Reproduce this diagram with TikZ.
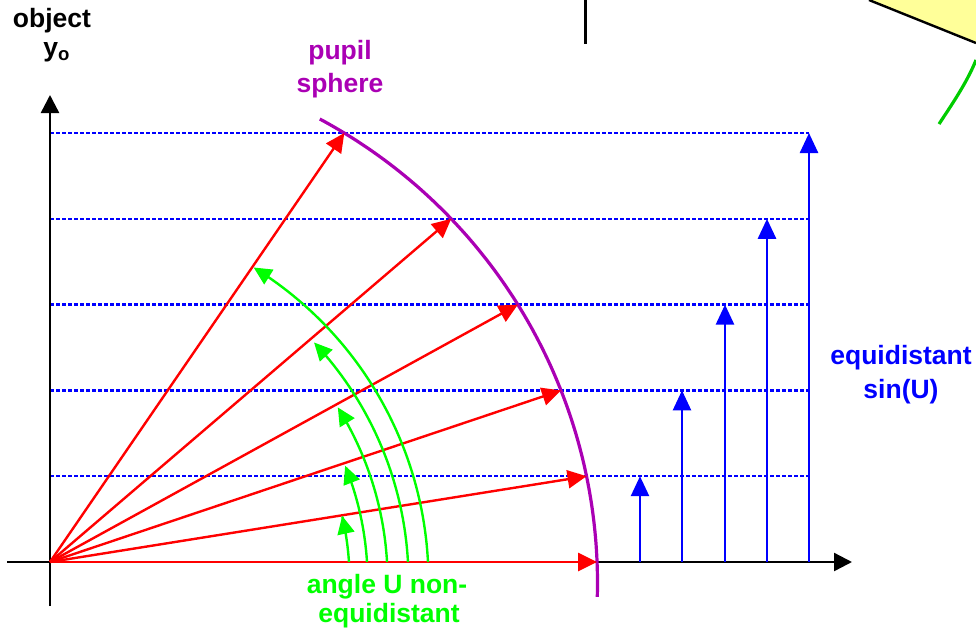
\documentclass[tikz,border=0pt]{standalone}
\usepackage{fontspec}
\setmainfont{Liberation Sans}
\usetikzlibrary{arrows.meta}
\definecolor{ppurple}{RGB}{170,0,180}
\definecolor{pgreen}{RGB}{0,255,0}
\definecolor{dgreen}{RGB}{0,204,0}
\definecolor{pblue}{RGB}{0,0,255}
\definecolor{pred}{RGB}{255,0,0}
\definecolor{pyellow}{RGB}{255,255,153}
\begin{document}
\begin{tikzpicture}[x=0.5pt,y=-0.5pt,
  lbl/.style={font=\fontsize{13.25}{16}\selectfont\bfseries, anchor=base, inner sep=0pt},
  axisline/.style={black, line width=1.2pt, -{Triangle[length=9pt,width=9pt]}},
  ray/.style={pred, line width=1.2pt, -{Triangle[length=9.5pt,width=9pt]}},
  uarc/.style={pgreen, line width=1.2pt, -{Triangle[length=9pt,width=8.5pt]}},
  sinarrow/.style={pblue, line width=1.3pt, -{Triangle[length=10pt,width=9pt]}},
  level/.style={pblue, line width=1.2pt, dash pattern=on 2pt off 1pt},
  sphere/.style={ppurple, line width=1.6pt},
]
\useasboundingbox (0,0) rectangle (976,633);

% top-right fragment
\fill[pyellow] (869,0) -- (976,43) -- (976,0) -- cycle;
\draw[black, line width=1.2pt] (869,0) -- (976,43);
\draw[dgreen, line width=1.6pt] (939,124) .. controls (955,100) and (968,80) .. (976,60);
% top vertical line
\draw[black, line width=1.5pt] (585,0) -- (585,44);

% origin and axes
\coordinate (O) at (50,562);
\coordinate (xa0) at (7,562);
\coordinate (xa1) at (852,562);
\coordinate (ya0) at (50,606);
\coordinate (ya1) at (50,95);

% levels
\foreach \k/\xb in {1/640,2/682,3/725,4/767,5/809}{
  \coordinate (L\k) at (50,{562-85.8*\k});
  \coordinate (E\k) at (809,{562-85.8*\k});
  \coordinate (B\k) at (\xb,562);
  \coordinate (T\k) at (\xb,{562-85.8*\k});
}
\foreach \k in {1,...,5}{
  \draw[level] (L\k) -- (E\k);
}

\draw[axisline] (xa0) -- (xa1);
\draw[axisline] (ya0) -- (ya1);

% blue sin arrows
\foreach \k in {1,...,5}{
  \draw[sinarrow] (B\k) -- (T\k);
}

% pupil sphere
\draw[sphere] plot[domain=-1.5:61.8, samples=80, smooth] ({71+526.5*cos(\x)},{583-526.5*sin(\x)});

% red rays
\coordinate (R0) at (597.1,562);
\coordinate (R1) at (586.6,{562-85.8});
\coordinate (R2) at (561.0,{562-171.6});
\coordinate (R3) at (517.9,{562-257.4});
\coordinate (R4) at (451.2,{562-343.2});
\coordinate (R5) at (344.3,{562-429});
\foreach \k in {0,...,5}{
  \draw[ray] (O) -- (R\k);
}

% green angle arcs (centre 60,581)
\foreach \r/\a/\b in {289.6/3.76/13, 307.6/3.54/22, 327.6/3.32/32, 348.5/3.13/43.2, 368.5/2.96/58.3}{
  \draw[uarc] plot[domain=\a:\b, samples=40, smooth] ({60+\r*cos(\x)},{581-\r*sin(\x)});
}

% labels
\node[lbl] (obj) at (52,27) {object};
\node[lbl] (yo) at (57,56) {y\textsubscript{o}};
\node[lbl, text=ppurple] (pup1) at (340,59) {pupil};
\node[lbl, text=ppurple] (pup2) at (340,92) {sphere};
\node[lbl, text=pblue] (eq1) at (901,364) {equidistant};
\node[lbl, text=pblue] (eq2) at (901,398) {sin(U)};
\node[lbl, text=pgreen] (ang1) at (387,593) {angle U non-};
\node[lbl, text=pgreen] (ang2) at (389,622) {equidistant};
\end{tikzpicture}
\end{document}
